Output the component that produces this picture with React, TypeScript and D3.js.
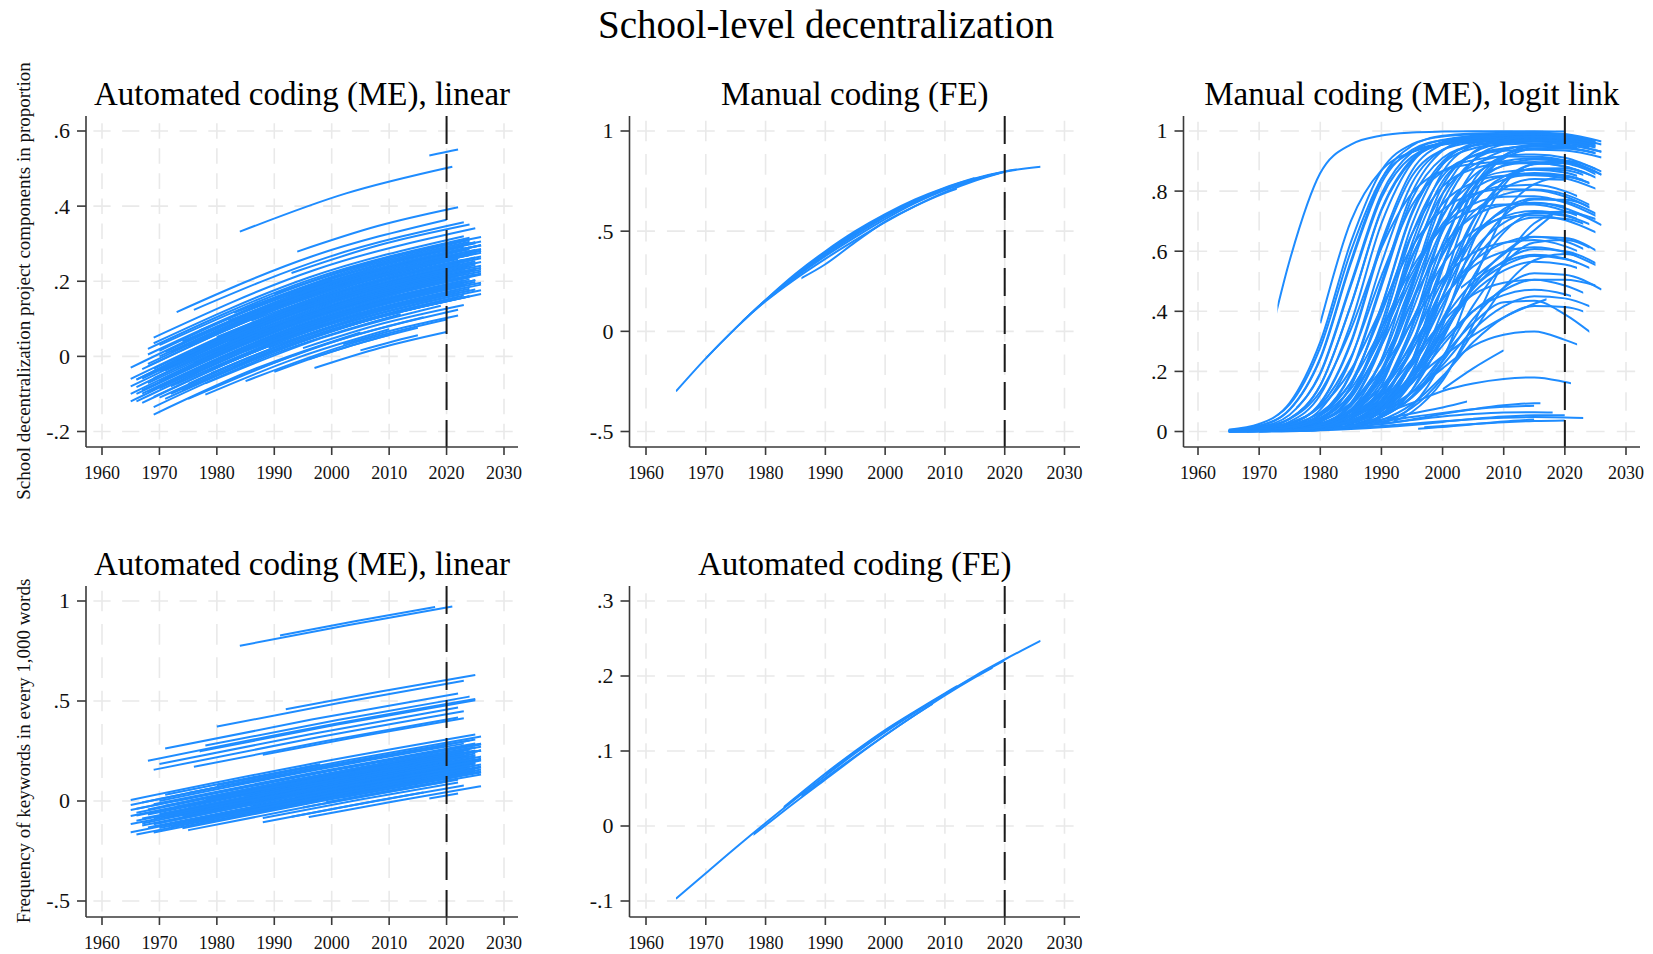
import React from 'react';
import * as d3 from 'd3';

const FONT = '"Liberation Serif", "Times New Roman", Times, serif';
const BLUE = '#1e8cff';

const MAIN_TITLE = 'School-level decentralization';
const Y_TITLE_TOP = 'School decentralization project components in proportion';
const Y_TITLE_BOTTOM = 'Frequency of keywords in every 1,000 words';

const X_TICKS = [1960, 1970, 1980, 1990, 2000, 2010, 2020, 2030];
const X_TICK_LABELS = ['1960', '1970', '1980', '1990', '2000', '2010', '2020', '2030'];
const CUTOFF_YEAR = 2020;
const GRID_YEARS = [1965, 1970, 1975, 1980, 1985, 1990, 1995, 2000, 2005, 2010, 2015, 2020, 2026];

const P1_TICKS = [-0.2, 0, 0.2, 0.4, 0.6];
const P1_LABELS = ['-.2', '0', '.2', '.4', '.6'];
const P2_TICKS = [-0.5, 0, 0.5, 1];
const P2_LABELS = ['-.5', '0', '.5', '1'];
const P3_TICKS = [0, 0.2, 0.4, 0.6, 0.8, 1];
const P3_LABELS = ['0', '.2', '.4', '.6', '.8', '1'];
const P4_TICKS = [-0.5, 0, 0.5, 1];
const P4_LABELS = ['-.5', '0', '.5', '1'];
const P5_TICKS = [-0.1, 0, 0.1, 0.2, 0.3];
const P5_LABELS = ['-.1', '0', '.1', '.2', '.3'];

// [startYear, endYear, valueAtStart, valueAtMidYear, valueAtEnd]
const P1_LINES = [
  [2017, 2022, 0.535, 0.543, 0.551], [1984, 2021, 0.332, 0.434, 0.505], [1994, 2022, 0.279, 0.347, 0.397],
  [1973, 2020, 0.118, 0.266, 0.364], [1976, 2023, 0.124, 0.265, 0.357], [1993, 2024, 0.222, 0.297, 0.351],
  [1990, 2026, 0.166, 0.256, 0.318], [1965, 2025, -0.06, 0.142, 0.263], [1965, 2024, -0.08, 0.119, 0.24],
  [1966, 2026, -0.10, 0.099, 0.218], [1966, 2023, -0.12, 0.071, 0.189], [1967, 2025, -0.09, 0.101, 0.217],
  [1968, 2024, 0.02, 0.203, 0.316], [1968, 2025, 0.005, 0.191, 0.304], [1968, 2022, -0.02, 0.158, 0.27],
  [1968, 2021, -0.05, 0.125, 0.237], [1969, 2025, 0.05, 0.23, 0.341], [1969, 2023, 0.035, 0.21, 0.32],
  [1969, 2005, -0.155, -0.031, 0.064], [1969, 2012, -0.135, 0.01, 0.113], [1970, 2024, 0.03, 0.202, 0.31],
  [1970, 2026, 0.0, 0.178, 0.286], [1970, 2020, -0.04, 0.122, 0.228], [1970, 2022, -0.11, 0.057, 0.164],
  [1971, 2025, -0.06, 0.111, 0.216], [1972, 2024, -0.02, 0.143, 0.245], [1972, 2023, -0.10, 0.06, 0.162],
  [1973, 2025, -0.03, 0.131, 0.231], [1974, 2026, 0.04, 0.198, 0.296], [1975, 2021, -0.05, 0.091, 0.184],
  [1975, 2024, 0.027, 0.175, 0.27], [1976, 2022, -0.016, 0.123, 0.214], [1977, 2025, 0.069, 0.211, 0.301],
  [1978, 2019, -0.072, 0.05, 0.135], [1978, 2024, -0.042, 0.093, 0.18], [1979, 2023, 0.04, 0.168, 0.252],
  [1980, 2020, 0.077, 0.193, 0.273], [1981, 2025, -0.002, 0.122, 0.203], [1982, 2023, 0.04, 0.155, 0.232],
  [1983, 2024, 0.116, 0.229, 0.305], [1985, 2025, 0.039, 0.146, 0.218], [1986, 2022, 0.095, 0.191, 0.259],
  [1988, 2026, 0.027, 0.124, 0.191], [1990, 2024, 0.014, 0.099, 0.16], [1991, 2023, 0.155, 0.234, 0.292],
  [1992, 2025, 0.095, 0.176, 0.233], [1995, 2023, 0.022, 0.088, 0.137], [1998, 2026, 0.158, 0.22, 0.266],
  [2000, 2024, 0.108, 0.16, 0.20], [2003, 2025, 0.167, 0.212, 0.248], [2010, 2026, 0.187, 0.216, 0.241],
  [2012, 2024, 0.135, 0.156, 0.175], [2015, 2025, 0.241, 0.258, 0.273], [2018, 2026, 0.201, 0.214, 0.226],
  [1966, 1990, -0.062, 0.028, 0.104], [1968, 1995, -0.096, 0.002, 0.082], [1970, 2000, 0.015, 0.119, 0.203],
  [1972, 2005, -0.08, 0.03, 0.116], [1975, 1995, -0.073, -0.006, 0.052], [1978, 2010, -0.102, -0.004, 0.072],
  [1980, 2000, -0.008, 0.054, 0.108], [1985, 2008, -0.016, 0.05, 0.104], [1988, 2016, -0.028, 0.047, 0.104],
  [1997, 2020, -0.031, 0.023, 0.065], [1990, 2010, -0.041, 0.013, 0.057], [1996, 2015, -0.008, 0.038, 0.076],
  [2005, 2015, 0.016, 0.037, 0.056], [2002, 2022, 0.032, 0.075, 0.109], [1975, 2022, -0.113, 0.03, 0.124],
  [1985, 2020, -0.066, 0.03, 0.098], [1967, 2024, -0.034, 0.155, 0.27], [1969, 2026, -0.058, 0.125, 0.236],
  [1971, 2021, 0.012, 0.172, 0.276], [1974, 2025, -0.05, 0.105, 0.203], [1976, 2026, 0.019, 0.168, 0.261],
  [1980, 2024, 0.017, 0.142, 0.225], [1984, 2026, 0.093, 0.206, 0.281], [1970, 2018, -0.08, 0.076, 0.181],
  [1965, 2022, -0.10, 0.094, 0.214], [1967, 2020, -0.124, 0.054, 0.168],
  [1965, 2024, -0.03, 0.169, 0.29], [1966, 2025, -0.062, 0.135, 0.253], [1967, 2023, -0.099, 0.087, 0.202],
  [1968, 2026, -0.071, 0.117, 0.231], [1969, 2024, -0.033, 0.145, 0.255], [1970, 2025, -0.085, 0.09, 0.198],
  [1971, 2023, -0.038, 0.127, 0.232], [1972, 2026, 0.01, 0.178, 0.281], [1973, 2024, -0.073, 0.085, 0.185],
  [1974, 2022, 0.0, 0.148, 0.244], [1975, 2026, -0.028, 0.125, 0.221], [1976, 2024, 0.049, 0.193, 0.285],
  [1977, 2023, -0.029, 0.108, 0.197], [1978, 2025, 0.018, 0.155, 0.243], [1979, 2026, -0.045, 0.09, 0.176],
  [1980, 2023, 0.052, 0.175, 0.257], [1981, 2024, 0.013, 0.135, 0.215], [1982, 2026, 0.095, 0.216, 0.296],
  [1983, 2022, -0.029, 0.08, 0.154], [1984, 2025, 0.063, 0.174, 0.248], [1985, 2023, 0.014, 0.116, 0.187],
  [1986, 2026, 0.13, 0.235, 0.306], [1987, 2024, 0.061, 0.158, 0.225], [1989, 2025, 0.023, 0.114, 0.178],
  [1991, 2026, 0.13, 0.216, 0.276], [1993, 2024, 0.076, 0.151, 0.205], [1995, 2025, 0.162, 0.232, 0.283],
  [1997, 2023, 0.087, 0.147, 0.192], [2000, 2026, 0.198, 0.253, 0.296], [2005, 2024, 0.141, 0.179, 0.21],
  [2008, 2025, 0.244, 0.276, 0.303], [2013, 2026, 0.153, 0.176, 0.196], [1966, 2000, -0.082, 0.041, 0.138],
  [1968, 2010, -0.026, 0.118, 0.222], [1970, 1998, -0.065, 0.033, 0.113], [1973, 2008, -0.008, 0.107, 0.194],
  [1976, 2012, -0.026, 0.086, 0.17], [1980, 2015, -0.028, 0.075, 0.151], [1983, 2005, 0.091, 0.156, 0.211],
  [1990, 2018, 0.074, 0.146, 0.201], [1965, 2020, -0.12, 0.068, 0.188], [1967, 2026, -0.059, 0.135, 0.251],
  [1969, 2022, -0.108, 0.065, 0.174], [1971, 2026, -0.113, 0.06, 0.166], [1974, 2024, -0.09, 0.063, 0.16],
];

const P4_LINES = [
  [1984, 2021, 0.776, 0.878, 0.972], [1991, 2018, 0.828, 0.901, 0.97], [1992, 2025, 0.459, 0.547, 0.63],
  [1980, 2023, 0.372, 0.491, 0.601], [1971, 2022, 0.262, 0.407, 0.538], [1977, 2025, 0.248, 0.382, 0.504],
  [1968, 2025, 0.201, 0.364, 0.51], [1970, 2022, 0.185, 0.333, 0.467], [1969, 2023, 0.156, 0.31, 0.449],
  [1976, 2022, 0.171, 0.30, 0.418], [1988, 2023, 0.231, 0.326, 0.414], [1978, 2024, 0.277, 0.405, 0.522],
  [1965, 2025, 0.005, 0.178, 0.332], [1973, 2026, 0.001, 0.15, 0.285], [1966, 2026, -0.073, 0.099, 0.253],
  [1965, 2024, -0.157, 0.013, 0.165], [1966, 2022, -0.168, -0.007, 0.138], [1969, 2025, -0.157, 0.002, 0.146],
  [1975, 2020, -0.146, -0.019, 0.098], [1988, 2022, -0.085, 0.007, 0.093], [1996, 2026, -0.08, -0.001, 0.074],
  [2017, 2022, 0.013, 0.025, 0.038], [1970, 2023, 0.0, 0.151, 0.287], [1968, 2025, -0.042, 0.121, 0.267],
  [1967, 2024, -0.088, 0.075, 0.222], [1971, 2026, -0.084, 0.071, 0.212], [1972, 2025, -0.098, 0.051, 0.187],
  [1969, 2023, -0.086, 0.068, 0.207], [1974, 2024, -0.026, 0.114, 0.242], [1976, 2026, -0.095, 0.045, 0.172],
  [1978, 2025, 0.032, 0.163, 0.282], [1980, 2024, -0.037, 0.085, 0.197], [1982, 2026, -0.085, 0.036, 0.147],
  [1985, 2023, 0.027, 0.131, 0.227], [1986, 2025, -0.027, 0.079, 0.177], [1990, 2024, -0.03, 0.061, 0.147],
  [1992, 2026, 0.046, 0.137, 0.222], [1995, 2022, -0.033, 0.039, 0.107], [1998, 2025, 0.049, 0.12, 0.187],
  [2002, 2026, 0.02, 0.082, 0.142], [2005, 2024, 0.166, 0.215, 0.262], [2010, 2025, 0.132, 0.17, 0.207],
  [1965, 2000, -0.115, -0.018, 0.085], [1967, 1995, -0.123, -0.041, 0.038], [1973, 2005, -0.117, -0.026, 0.061],
  [1975, 2010, 0.0, 0.099, 0.192], [1971, 1998, 0.031, 0.109, 0.184], [1983, 2018, 0.081, 0.177, 0.268],
  [1977, 2021, -0.029, 0.094, 0.207], [1966, 2020, -0.039, 0.117, 0.258], [1993, 2023, -0.079, 0.002, 0.077],
  [1988, 2016, -0.106, -0.03, 0.043], [1984, 2024, 0.046, 0.156, 0.257], [1979, 2026, 0.003, 0.133, 0.252],
  [1965, 2026, -0.045, 0.13, 0.287], [1969, 2024, -0.116, 0.041, 0.182], [1974, 2022, -0.136, -0.001, 0.122],
  [1965, 2025, -0.02, 0.153, 0.307], [1966, 2024, -0.059, 0.108, 0.257], [1967, 2026, -0.113, 0.056, 0.207],
  [1968, 2023, -0.067, 0.09, 0.232], [1968, 2026, -0.132, 0.033, 0.182], [1969, 2025, -0.016, 0.143, 0.287],
  [1970, 2024, -0.065, 0.088, 0.227], [1970, 2026, -0.135, 0.024, 0.167], [1971, 2025, -0.024, 0.129, 0.267],
  [1972, 2023, -0.073, 0.071, 0.202], [1973, 2025, -0.027, 0.119, 0.252], [1974, 2026, -0.076, 0.07, 0.202],
  [1975, 2024, 0.04, 0.177, 0.302], [1976, 2025, -0.045, 0.092, 0.217], [1977, 2026, -0.104, 0.033, 0.157],
  [1978, 2023, 0.007, 0.132, 0.247], [1979, 2025, -0.052, 0.075, 0.192], [1980, 2026, 0.079, 0.205, 0.322],
  [1981, 2024, -0.061, 0.058, 0.167], [1983, 2025, 0.006, 0.121, 0.227], [1984, 2023, -0.019, 0.088, 0.187],
  [1986, 2026, 0.063, 0.171, 0.272], [1987, 2024, 0.013, 0.114, 0.207], [1989, 2025, -0.031, 0.066, 0.157],
  [1991, 2026, 0.071, 0.164, 0.252], [1994, 2024, 0.022, 0.102, 0.177], [1996, 2025, 0.078, 0.155, 0.227],
  [1999, 2026, -0.006, 0.065, 0.132], [2001, 2023, 0.045, 0.102, 0.157], [2004, 2025, 0.091, 0.145, 0.197],
  [2008, 2026, 0.192, 0.238, 0.282], [2012, 2024, 0.082, 0.113, 0.142], [2014, 2025, 0.182, 0.21, 0.237],
  [1965, 2010, -0.075, 0.056, 0.177], [1970, 2005, -0.11, -0.009, 0.086], [1975, 2015, -0.036, 0.078, 0.183],
  [1980, 2012, 0.044, 0.133, 0.217], [1985, 2020, -0.008, 0.088, 0.178], [1990, 2018, 0.085, 0.161, 0.233],
  [1966, 2015, -0.099, 0.043, 0.173], [1972, 2000, -0.128, -0.047, 0.03], [1978, 1998, -0.043, 0.014, 0.069],
  [1967, 1990, -0.008, 0.06, 0.125], [1995, 2020, 0.148, 0.214, 0.278], [1975, 2026, -0.126, 0.017, 0.147],
];

// [startYear, endYear, values at GRID_YEARS (null = not read)]
const N = null;
const P2_LINES = [
  [1965, 2026, -0.30, -0.135, 0.016, 0.155, 0.281, 0.394, 0.493, 0.58, 0.654, 0.715, 0.763, 0.798, 0.822],
  [1978, 2020, N, N, 0.02, 0.15, 0.262, 0.362, 0.455, 0.545, 0.625, 0.695, 0.752, 0.797, N],
  [1981, 2019, N, N, N, 0.152, 0.27, 0.375, 0.47, 0.56, 0.64, 0.705, 0.757, 0.797, N],
  [1976, 2015, N, N, 0.018, 0.157, 0.287, 0.40, 0.50, 0.585, 0.658, 0.717, 0.765, N, N],
  [1983, 2022, N, N, N, 0.155, 0.276, 0.383, 0.48, 0.57, 0.646, 0.71, 0.76, 0.797, 0.82],
  [1985, 2018, N, N, N, N, 0.283, 0.39, 0.49, 0.575, 0.65, 0.712, 0.76, 0.796, N],
  [1970, 2005, N, -0.135, 0.016, 0.155, 0.279, 0.39, 0.488, 0.575, 0.65, N, N, N, N],
  [1986, 2012, N, N, N, N, 0.25, 0.335, 0.445, 0.548, 0.625, 0.69, 0.74, N, N],
];

const P3_LINES = [
  [1973, 2020, N, 0.15, 0.57, 0.86, 0.955, 0.985, 0.995, 0.998, 0.999, 0.999, 0.999, 0.998, 0.997],
  [1980, 2022, N, N, N, 0.36, 0.70, 0.87, 0.93, 0.955, 0.965, 0.97, 0.97, 0.965, 0.95],
  [1973, 2023, N, 0.03, 0.09, 0.28, 0.60, 0.84, 0.93, 0.96, 0.97, 0.975, 0.975, 0.97, 0.955],
  [1965, 2025, 0.006, 0.025, 0.095, 0.298, 0.63, 0.868, 0.956, 0.982, 0.988, 0.989, 0.99, 0.985, 0.96],
  [1965, 2026, 0.004, 0.015, 0.056, 0.195, 0.493, 0.79, 0.929, 0.97, 0.981, 0.984, 0.985, 0.98, 0.955],
  [1966, 2024, 0.005, 0.019, 0.073, 0.241, 0.559, 0.826, 0.937, 0.969, 0.977, 0.979, 0.98, 0.975, 0.951],
  [1967, 2025, 0.003, 0.011, 0.043, 0.153, 0.419, 0.735, 0.902, 0.956, 0.97, 0.974, 0.975, 0.97, 0.946],
  [1965, 2022, 0.002, 0.008, 0.033, 0.122, 0.36, 0.692, 0.895, 0.964, 0.984, 0.988, 0.99, 0.985, 0.96],
  [1968, 2023, 0.002, 0.006, 0.025, 0.093, 0.292, 0.617, 0.85, 0.937, 0.962, 0.968, 0.97, 0.965, 0.941],
  [1970, 2025, N, 0.005, 0.019, 0.073, 0.241, 0.559, 0.826, 0.937, 0.969, 0.977, 0.979, 0.975, 0.951],
  [1965, 2024, 0.001, 0.004, 0.014, 0.055, 0.191, 0.483, 0.774, 0.91, 0.951, 0.961, 0.964, 0.96, 0.936],
  [1972, 2026, N, 0.003, 0.011, 0.042, 0.151, 0.413, 0.724, 0.888, 0.942, 0.955, 0.959, 0.955, 0.931],
  [1975, 2020, N, N, 0.008, 0.033, 0.122, 0.359, 0.689, 0.89, 0.959, 0.979, 0.983, 0.98, 0.955],
  [1965, 2025, 0.0, 0.002, 0.006, 0.024, 0.091, 0.286, 0.604, 0.833, 0.918, 0.942, 0.948, 0.945, 0.922],
  [1978, 2024, N, N, 0.005, 0.019, 0.072, 0.239, 0.553, 0.818, 0.927, 0.959, 0.967, 0.964, 0.941],
  [1980, 2022, N, N, N, 0.014, 0.055, 0.189, 0.478, 0.766, 0.901, 0.941, 0.951, 0.949, 0.926],
  [1969, 2026, 0.0, 0.002, 0.008, 0.032, 0.116, 0.342, 0.657, 0.85, 0.916, 0.934, 0.938, 0.935, 0.912],
  [1982, 2025, N, N, N, 0.011, 0.043, 0.153, 0.419, 0.735, 0.902, 0.956, 0.97, 0.969, 0.946],
  [1985, 2018, N, N, N, N, 0.032, 0.119, 0.349, 0.671, 0.868, 0.935, 0.954, 0.955, N],
  [1966, 2021, 0.003, 0.011, 0.043, 0.154, 0.421, 0.739, 0.907, 0.961, 0.975, 0.979, 0.98, 0.975, 0.951],
  [1971, 2023, N, 0.006, 0.025, 0.095, 0.298, 0.63, 0.868, 0.956, 0.982, 0.988, 0.99, 0.985, 0.96],
  [1976, 2016, N, N, 0.056, 0.192, 0.485, 0.778, 0.915, 0.955, 0.966, 0.969, 0.97, N, N],
  [1990, 2024, N, N, N, N, N, 0.091, 0.286, 0.604, 0.833, 0.918, 0.942, 0.943, 0.922],
  [1965, 2025, 0.002, 0.008, 0.027, 0.087, 0.247, 0.517, 0.753, 0.865, 0.903, 0.915, 0.914, 0.902, 0.856],
  [1967, 2024, 0.001, 0.005, 0.016, 0.054, 0.164, 0.394, 0.658, 0.815, 0.874, 0.892, 0.893, 0.882, 0.837],
  [1970, 2026, N, 0.003, 0.01, 0.034, 0.111, 0.299, 0.578, 0.792, 0.886, 0.917, 0.922, 0.911, 0.865],
  [1965, 2022, 0.001, 0.002, 0.008, 0.026, 0.084, 0.237, 0.495, 0.72, 0.827, 0.864, 0.871, 0.862, 0.818],
  [1973, 2025, N, 0.001, 0.005, 0.016, 0.055, 0.166, 0.399, 0.665, 0.824, 0.884, 0.897, 0.892, 0.846],
  [1977, 2024, N, N, 0.006, 0.02, 0.066, 0.194, 0.435, 0.676, 0.804, 0.85, 0.86, 0.853, 0.809],
  [1980, 2023, N, N, N, 0.01, 0.033, 0.106, 0.286, 0.554, 0.758, 0.848, 0.873, 0.869, 0.827],
  [1984, 2020, N, N, N, 0.007, 0.025, 0.082, 0.231, 0.483, 0.703, 0.808, 0.84, 0.838, N],
  [1968, 2026, 0.0, 0.001, 0.004, 0.013, 0.043, 0.136, 0.348, 0.625, 0.811, 0.886, 0.905, 0.899, 0.855],
  [1986, 2025, N, N, N, N, 0.021, 0.068, 0.201, 0.45, 0.699, 0.832, 0.875, 0.876, 0.836],
  [1965, 2024, 0.003, 0.01, 0.029, 0.082, 0.205, 0.41, 0.615, 0.738, 0.79, 0.806, 0.804, 0.782, 0.726],
  [1970, 2025, N, 0.006, 0.019, 0.053, 0.142, 0.314, 0.527, 0.682, 0.757, 0.781, 0.783, 0.762, 0.708],
  [1966, 2023, 0.001, 0.004, 0.012, 0.034, 0.094, 0.229, 0.433, 0.615, 0.716, 0.753, 0.761, 0.743, 0.69],
  [1975, 2024, N, N, 0.008, 0.024, 0.068, 0.175, 0.369, 0.587, 0.73, 0.789, 0.805, 0.789, 0.734],
  [1978, 2022, N, N, 0.006, 0.018, 0.051, 0.135, 0.298, 0.501, 0.648, 0.715, 0.734, 0.721, 0.671],
  [1980, 2025, N, N, N, 0.012, 0.036, 0.098, 0.237, 0.45, 0.639, 0.74, 0.775, 0.766, 0.715],
  [1972, 2020, N, 0.002, 0.005, 0.015, 0.043, 0.116, 0.269, 0.48, 0.65, 0.733, 0.76, 0.749, N],
  [1985, 2023, N, N, N, N, 0.027, 0.075, 0.188, 0.375, 0.563, 0.672, 0.712, 0.708, 0.662],
  [1988, 2024, N, N, N, N, 0.024, 0.067, 0.173, 0.365, 0.58, 0.717, 0.772, 0.771, 0.723],
  [1967, 2025, 0.001, 0.003, 0.009, 0.026, 0.074, 0.185, 0.37, 0.555, 0.666, 0.71, 0.72, 0.704, 0.654],
  [2003, 2018, N, N, N, N, N, N, N, 0.43, 0.51, 0.59, 0.67, 0.755, N],
  [1965, 2022, 0.002, 0.005, 0.014, 0.038, 0.094, 0.205, 0.363, 0.508, 0.594, 0.628, 0.637, 0.617, 0.561],
  [1970, 2025, N, 0.004, 0.009, 0.025, 0.064, 0.148, 0.288, 0.442, 0.549, 0.598, 0.613, 0.597, 0.544],
  [1975, 2024, N, N, 0.006, 0.016, 0.043, 0.104, 0.219, 0.371, 0.497, 0.563, 0.588, 0.576, 0.525],
  [1968, 2023, 0.001, 0.003, 0.008, 0.022, 0.057, 0.135, 0.273, 0.439, 0.566, 0.627, 0.648, 0.633, 0.576],
  [1982, 2025, N, N, N, 0.012, 0.031, 0.077, 0.175, 0.325, 0.475, 0.567, 0.607, 0.60, 0.549],
  [1978, 2022, N, N, 0.005, 0.013, 0.034, 0.085, 0.186, 0.33, 0.461, 0.535, 0.565, 0.556, 0.508],
  [1965, 2023, 0.001, 0.003, 0.008, 0.021, 0.053, 0.122, 0.239, 0.366, 0.455, 0.495, 0.505, 0.486, 0.433],
  [1972, 2025, N, 0.002, 0.004, 0.011, 0.03, 0.074, 0.161, 0.286, 0.40, 0.47, 0.505, 0.505, 0.48],
  [1980, 2021, N, N, N, 0.013, 0.035, 0.084, 0.177, 0.30, 0.401, 0.454, 0.472, 0.457, 0.408],
  [1975, 2024, N, N, 0.003, 0.007, 0.019, 0.049, 0.113, 0.221, 0.338, 0.416, 0.45, 0.443, 0.399],
  [1985, 2023, N, N, N, N, 0.015, 0.038, 0.091, 0.184, 0.297, 0.379, 0.418, 0.414, 0.374],
  [1968, 2017, 0.001, 0.003, 0.008, 0.02, 0.05, 0.10, 0.17, 0.25, 0.32, 0.38, 0.425, 0.46, N],
  [1990, 2024, N, N, N, N, N, 0.06, 0.13, 0.25, 0.36, 0.43, 0.435, 0.39, 0.30],
  [1975, 2022, N, N, 0.005, 0.015, 0.035, 0.07, 0.13, 0.21, 0.285, 0.322, 0.333, 0.305, 0.255],
  [2000, 2010, N, N, N, N, N, N, N, 0.14, 0.21, 0.27, N, N, N],
  [1985, 2021, N, N, N, N, 0.03, 0.06, 0.095, 0.135, 0.16, 0.175, 0.18, 0.165, 0.135],
  [1988, 2004, N, N, N, N, 0.02, 0.04, 0.06, 0.08, 0.105, N, N, N, N],
  [1990, 2016, N, N, N, N, N, 0.025, 0.04, 0.058, 0.074, 0.087, 0.094, 0.095, N],
  [1978, 2015, N, N, 0.005, 0.01, 0.02, 0.033, 0.048, 0.062, 0.074, 0.082, 0.086, N, N],
  [1965, 2023, 0.0, 0.001, 0.003, 0.006, 0.011, 0.018, 0.026, 0.034, 0.041, 0.046, 0.048, 0.047, 0.043],
  [1997, 2020, N, N, N, N, N, N, 0.012, 0.018, 0.025, 0.031, 0.035, 0.037, N],
  [1996, 2015, N, N, N, N, N, N, 0.008, 0.015, 0.024, 0.033, 0.04, N, N],
  [1970, 2018, N, 0.001, 0.003, 0.007, 0.014, 0.025, 0.038, 0.05, 0.058, 0.063, 0.064, 0.062, N],
  [1965, 2020, 0.0, 0.001, 0.002, 0.004, 0.008, 0.014, 0.022, 0.032, 0.042, 0.05, 0.054, 0.054, N],
  [1965, 2024, 0.001, 0.003, 0.011, 0.043, 0.152, 0.417, 0.731, 0.898, 0.952, 0.965, 0.969, 0.965, 0.941],
  [1974, 2025, N, 0.002, 0.006, 0.025, 0.095, 0.296, 0.626, 0.863, 0.952, 0.977, 0.983, 0.98, 0.955],
  [1983, 2026, N, N, N, 0.005, 0.019, 0.072, 0.236, 0.547, 0.809, 0.918, 0.949, 0.952, 0.931],
  [1992, 2025, N, N, N, N, N, 0.044, 0.138, 0.352, 0.631, 0.819, 0.891, 0.901, 0.865],
  [1965, 2023, 0.004, 0.013, 0.042, 0.133, 0.34, 0.611, 0.793, 0.867, 0.89, 0.897, 0.894, 0.882, 0.837],
  [1976, 2025, N, N, 0.012, 0.04, 0.127, 0.325, 0.584, 0.758, 0.828, 0.851, 0.853, 0.843, 0.80],
  [1969, 2022, 0.003, 0.008, 0.022, 0.063, 0.162, 0.343, 0.544, 0.677, 0.736, 0.755, 0.755, 0.734, 0.681],
  [1987, 2025, N, N, N, N, 0.027, 0.07, 0.162, 0.315, 0.483, 0.595, 0.647, 0.644, 0.591],
  [1965, 2026, 0.005, 0.019, 0.074, 0.245, 0.567, 0.839, 0.951, 0.984, 0.992, 0.994, 0.995, 0.99, 0.965],
  [1965, 2024, 0.0, 0.001, 0.004, 0.012, 0.041, 0.129, 0.329, 0.591, 0.766, 0.838, 0.856, 0.85, 0.809],
  [1970, 2025, N, 0.0, 0.001, 0.005, 0.018, 0.071, 0.234, 0.542, 0.801, 0.908, 0.94, 0.942, 0.921],
  [1975, 2026, N, N, 0.002, 0.006, 0.018, 0.052, 0.138, 0.306, 0.514, 0.662, 0.727, 0.731, 0.687],
  [1968, 2023, 0.001, 0.002, 0.006, 0.021, 0.07, 0.205, 0.46, 0.715, 0.85, 0.899, 0.909, 0.90, 0.856],
  [1980, 2024, N, N, N, 0.007, 0.019, 0.048, 0.118, 0.248, 0.419, 0.556, 0.629, 0.637, 0.589],
  [1972, 2022, N, 0.005, 0.016, 0.046, 0.123, 0.286, 0.511, 0.691, 0.784, 0.817, 0.821, 0.80, 0.743],
  [1985, 2025, N, N, N, N, 0.014, 0.056, 0.192, 0.485, 0.778, 0.915, 0.955, 0.961, 0.94],
  [1978, 2026, N, N, 0.003, 0.007, 0.019, 0.048, 0.115, 0.233, 0.375, 0.478, 0.527, 0.522, 0.472],
  [1990, 2023, N, N, N, N, N, 0.026, 0.084, 0.237, 0.495, 0.72, 0.823, 0.847, 0.815],
  [1966, 2025, 0.001, 0.004, 0.015, 0.057, 0.196, 0.495, 0.794, 0.934, 0.975, 0.986, 0.989, 0.985, 0.96],
  [1970, 2024, N, 0.001, 0.004, 0.011, 0.033, 0.092, 0.223, 0.422, 0.60, 0.694, 0.727, 0.718, 0.671],
  [1982, 2026, N, N, N, 0.005, 0.017, 0.055, 0.167, 0.403, 0.673, 0.833, 0.889, 0.894, 0.854],
  [1965, 2022, 0.001, 0.002, 0.005, 0.014, 0.036, 0.088, 0.192, 0.341, 0.477, 0.552, 0.584, 0.574, 0.525],
  [1975, 2025, N, N, 0.004, 0.015, 0.056, 0.195, 0.493, 0.79, 0.929, 0.97, 0.981, 0.979, 0.955],
  [1988, 2022, N, N, N, N, 0.012, 0.031, 0.079, 0.178, 0.33, 0.478, 0.57, 0.591, 0.553],
  [1992, 2025, N, N, N, N, N, 0.023, 0.065, 0.169, 0.356, 0.563, 0.693, 0.73, 0.70],
];

const P5_LINES = [
  [1965, 2026, -0.097, -0.063, -0.029, 0.004, 0.036, 0.067, 0.097, 0.125, 0.151, 0.176, 0.20, 0.222, 0.247],
  [1978, 2018, N, N, -0.03, 0.001, 0.032, 0.062, 0.092, 0.121, 0.148, 0.174, 0.198, 0.22, N],
  [1983, 2012, N, N, N, 0.005, 0.038, 0.07, 0.10, 0.128, 0.153, 0.177, 0.20, N, N],
  [1986, 2008, N, N, N, N, 0.034, 0.064, 0.093, 0.121, 0.148, 0.173, N, N, N],
  [1990, 2020, N, N, N, N, N, 0.069, 0.099, 0.127, 0.152, 0.176, 0.199, 0.221, N],
];

type Panel = {
  id: string; title: string; titleY: number;
  x1960: number; x2030: number; axisX: number; axisRight: number; axisTop: number; axisBottom: number;
  ticks: number[]; labels: string[]; yTopPx: number; yBottomPx: number;
  lines: any[]; kind: 'tri' | 'grid';
};

const PANELS: Panel[] = [
  { id: 'p1', title: 'Automated coding (ME), linear', titleY: 105, x1960: 102, x2030: 504, axisX: 86, axisRight: 518, axisTop: 116, axisBottom: 447, ticks: P1_TICKS, labels: P1_LABELS, yTopPx: 131, yBottomPx: 431.5, lines: P1_LINES, kind: 'tri' },
  { id: 'p2', title: 'Manual coding (FE)', titleY: 105, x1960: 646, x2030: 1064.5, axisX: 629.5, axisRight: 1080, axisTop: 116, axisBottom: 447, ticks: P2_TICKS, labels: P2_LABELS, yTopPx: 131, yBottomPx: 431.5, lines: P2_LINES, kind: 'grid' },
  { id: 'p3', title: 'Manual coding (ME), logit link', titleY: 105, x1960: 1198, x2030: 1626, axisX: 1183.5, axisRight: 1640, axisTop: 116, axisBottom: 447, ticks: P3_TICKS, labels: P3_LABELS, yTopPx: 131, yBottomPx: 431.5, lines: P3_LINES, kind: 'grid' },
  { id: 'p4', title: 'Automated coding (ME), linear', titleY: 575, x1960: 102, x2030: 504, axisX: 86, axisRight: 518, axisTop: 586, axisBottom: 917, ticks: P4_TICKS, labels: P4_LABELS, yTopPx: 601, yBottomPx: 901, lines: P4_LINES, kind: 'tri' },
  { id: 'p5', title: 'Automated coding (FE)', titleY: 575, x1960: 646, x2030: 1064.5, axisX: 629.5, axisRight: 1080, axisTop: 586, axisBottom: 917, ticks: P5_TICKS, labels: P5_LABELS, yTopPx: 601, yBottomPx: 901, lines: P5_LINES, kind: 'grid' },
];

const mod = (a: number, m: number) => ((a % m) + m) % m;

function PanelView({ p }: { p: Panel }) {
  const x = d3.scaleLinear().domain([1960, 2030]).range([p.x1960, p.x2030]);
  const y = d3.scaleLinear().domain([p.ticks[0], p.ticks[p.ticks.length - 1]]).range([p.yBottomPx, p.yTopPx]);
  const gridColor = '#e9e9e9';

  const xSp = x(1970) - x(1960);
  const hPer = xSp / 2;
  const hDash = hPer * 0.6;
  const hOff = mod(hDash / 2 - (x(1960) - p.axisX), hPer);
  const ySp = Math.abs(y(p.ticks[1]) - y(p.ticks[0]));
  const n = Math.max(1, Math.round(ySp / 30));
  const vPer = ySp / n;
  const vDash = vPer * 0.62;
  const vOff = mod(vDash / 2 - (y(p.ticks[p.ticks.length - 1]) - p.axisTop), vPer);

  const lineTri = d3.line<[number, number]>().x(d => x(d[0])).y(d => y(d[1])).curve(d3.curveNatural);
  const lineGrid = d3.line<[number, number]>().x(d => x(d[0])).y(d => y(d[1])).curve(d3.curveMonotoneX);

  const paths: { d: string; clip?: [number, number] }[] = p.lines.map((ln: any[]) => {
    const s = ln[0], e = ln[1];
    if (p.kind === 'tri') {
      const pts: [number, number][] = [[s, ln[2]], [(s + e) / 2, ln[3]], [e, ln[4]]];
      return { d: lineTri(pts) || '' };
    }
    const vals = ln.slice(2);
    const lo = d3.max(GRID_YEARS.filter(g => g <= s)) ?? GRID_YEARS[0];
    const hi = d3.min(GRID_YEARS.filter(g => g >= e)) ?? GRID_YEARS[GRID_YEARS.length - 1];
    const pts: [number, number][] = [];
    GRID_YEARS.forEach((g, i) => {
      if (vals[i] != null && g >= lo && g <= hi) pts.push([g, vals[i]]);
    });
    return { d: lineGrid(pts) || '', clip: [s, e] };
  });

  const cx = (p.axisX + p.axisRight) / 2;

  return (
    <g>
      <defs>
        {paths.map((pt, i) => pt.clip ? (
          <clipPath id={`${p.id}c${i}`} key={i}>
            <rect x={x(pt.clip[0])} y={p.axisTop - 40} width={x(pt.clip[1]) - x(pt.clip[0])} height={p.axisBottom - p.axisTop + 80} />
          </clipPath>
        ) : null)}
      </defs>
      {p.ticks.map((t, i) => (
        <line key={'h' + i} x1={p.axisX} x2={p.axisRight} y1={y(t)} y2={y(t)} stroke={gridColor} strokeWidth={1.6}
          strokeDasharray={`${hDash.toFixed(2)},${(hPer - hDash).toFixed(2)}`} strokeDashoffset={hOff} />
      ))}
      {X_TICKS.map((t, i) => (
        <line key={'v' + i} x1={x(t)} x2={x(t)} y1={p.axisTop} y2={p.axisBottom} stroke={gridColor} strokeWidth={1.6}
          strokeDasharray={`${vDash.toFixed(2)},${(vPer - vDash).toFixed(2)}`} strokeDashoffset={vOff} />
      ))}
      <g fill="none" stroke={BLUE} strokeWidth={2} strokeLinecap="butt" strokeLinejoin="round">
        {paths.map((pt, i) => (
          <path key={i} d={pt.d} clipPath={pt.clip ? `url(#${p.id}c${i})` : undefined} />
        ))}
      </g>
      <line x1={x(CUTOFF_YEAR)} x2={x(CUTOFF_YEAR)} y1={p.axisTop} y2={p.axisBottom} stroke="#1a1a1a" strokeWidth={2}
        strokeDasharray="28,10" />
      <line x1={p.axisX} x2={p.axisX} y1={p.axisTop} y2={p.axisBottom} stroke="#3a3a3a" strokeWidth={1.6} />
      <line x1={p.axisX} x2={p.axisRight} y1={p.axisBottom} y2={p.axisBottom} stroke="#3a3a3a" strokeWidth={1.6} />
      {p.ticks.map((t, i) => (
        <g key={'yt' + i}>
          <line x1={p.axisX - 9} x2={p.axisX} y1={y(t)} y2={y(t)} stroke="#3a3a3a" strokeWidth={1.6} />
          <text x={p.axisX - 16} y={y(t)} dy="0.34em" textAnchor="end" fontFamily={FONT} fontSize={22} fill="#111">{p.labels[i]}</text>
        </g>
      ))}
      {X_TICKS.map((t, i) => (
        <g key={'xt' + i}>
          <line x1={x(t)} x2={x(t)} y1={p.axisBottom} y2={p.axisBottom + 8} stroke="#3a3a3a" strokeWidth={1.6} />
          <text x={x(t)} y={p.axisBottom + 32} textAnchor="middle" fontFamily={FONT} fontSize={18} fill="#111">{X_TICK_LABELS[i]}</text>
        </g>
      ))}
      <text x={cx} y={p.titleY} textAnchor="middle" fontFamily={FONT} fontSize={33} fill="#000">{p.title}</text>
    </g>
  );
}

export default function App() {
  return (
    <svg width={1653} height={954} viewBox="0 0 1653 954"
      style={{ position: 'absolute', left: 0, top: 0, background: '#fff', display: 'block' }}>
      <rect x={0} y={0} width={1653} height={954} fill="#fff" />
      <text x={826} y={38} textAnchor="middle" fontFamily={FONT} fontSize={39} fill="#000">{MAIN_TITLE}</text>
      <text transform="translate(24,281) rotate(-90)" textAnchor="middle" dy="0.32em" fontFamily={FONT} fontSize={19} fill="#111">{Y_TITLE_TOP}</text>
      <text transform="translate(24,751) rotate(-90)" textAnchor="middle" dy="0.32em" fontFamily={FONT} fontSize={19} fill="#111">{Y_TITLE_BOTTOM}</text>
      {PANELS.map(p => <PanelView key={p.id} p={p} />)}
    </svg>
  );
}
